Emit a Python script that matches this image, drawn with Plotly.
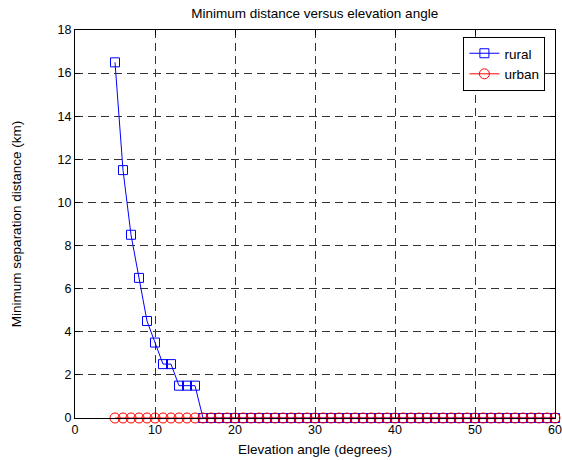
import plotly.graph_objects as go

elev = list(range(5, 61))
rural = [16.5, 11.5, 8.5, 6.5, 4.5, 3.5, 2.5, 2.5, 1.5, 1.5, 1.5] + [0] * 45
urban = [0] * 56

fig = go.Figure()
fig.add_trace(go.Scatter(x=elev, y=rural, name="rural", mode="lines+markers", cliponaxis=False,
                         line=dict(color="#0000ff", width=1),
                         marker=dict(symbol="square-open", size=9, color="#0000ff", line=dict(width=1))))
fig.add_trace(go.Scatter(x=elev, y=urban, name="urban", mode="lines+markers", cliponaxis=False,
                         line=dict(color="#ff0000", width=1),
                         marker=dict(symbol="circle-open", size=10, color="#ff0000", line=dict(width=1))))

font = dict(family="Liberation Sans, Arial, sans-serif", size=13, color="black")
fig.update_layout(
    width=562, height=460,
    margin=dict(l=75, r=7, t=30, b=42),
    paper_bgcolor="white", plot_bgcolor="white",
    font=font,
    title=dict(text="Minimum distance versus elevation angle", x=0.56, xanchor="center",
               y=0.982, yanchor="top", font=dict(size=13.5)),
    showlegend=True,
    legend=dict(x=0.98, y=0.982, xanchor="right", yanchor="top", bordercolor="black",
                borderwidth=1, bgcolor="white", font=dict(size=13.5),
                tracegroupgap=0, itemwidth=30),
)
common = dict(tickmode="linear", showline=True, linecolor="black", linewidth=1, mirror="ticks",
              ticks="inside", ticklen=5, tickcolor="black",
              showgrid=True, gridcolor="#333333", griddash="8px,5px", gridwidth=1,
              zeroline=False, automargin=False, tickfont=dict(size=12.5))
fig.update_xaxes(range=[0, 60], tick0=0, dtick=10, ticklabeloverflow="allow",
                 title=dict(text="Elevation angle (degrees)", standoff=8, font=dict(size=13.5)), **common)
fig.update_yaxes(range=[0, 18], tick0=0, dtick=2,
                 title=dict(text="Minimum separation distance (km)", standoff=32, font=dict(size=13.5)), **common)
fig.write_html("out.html")
